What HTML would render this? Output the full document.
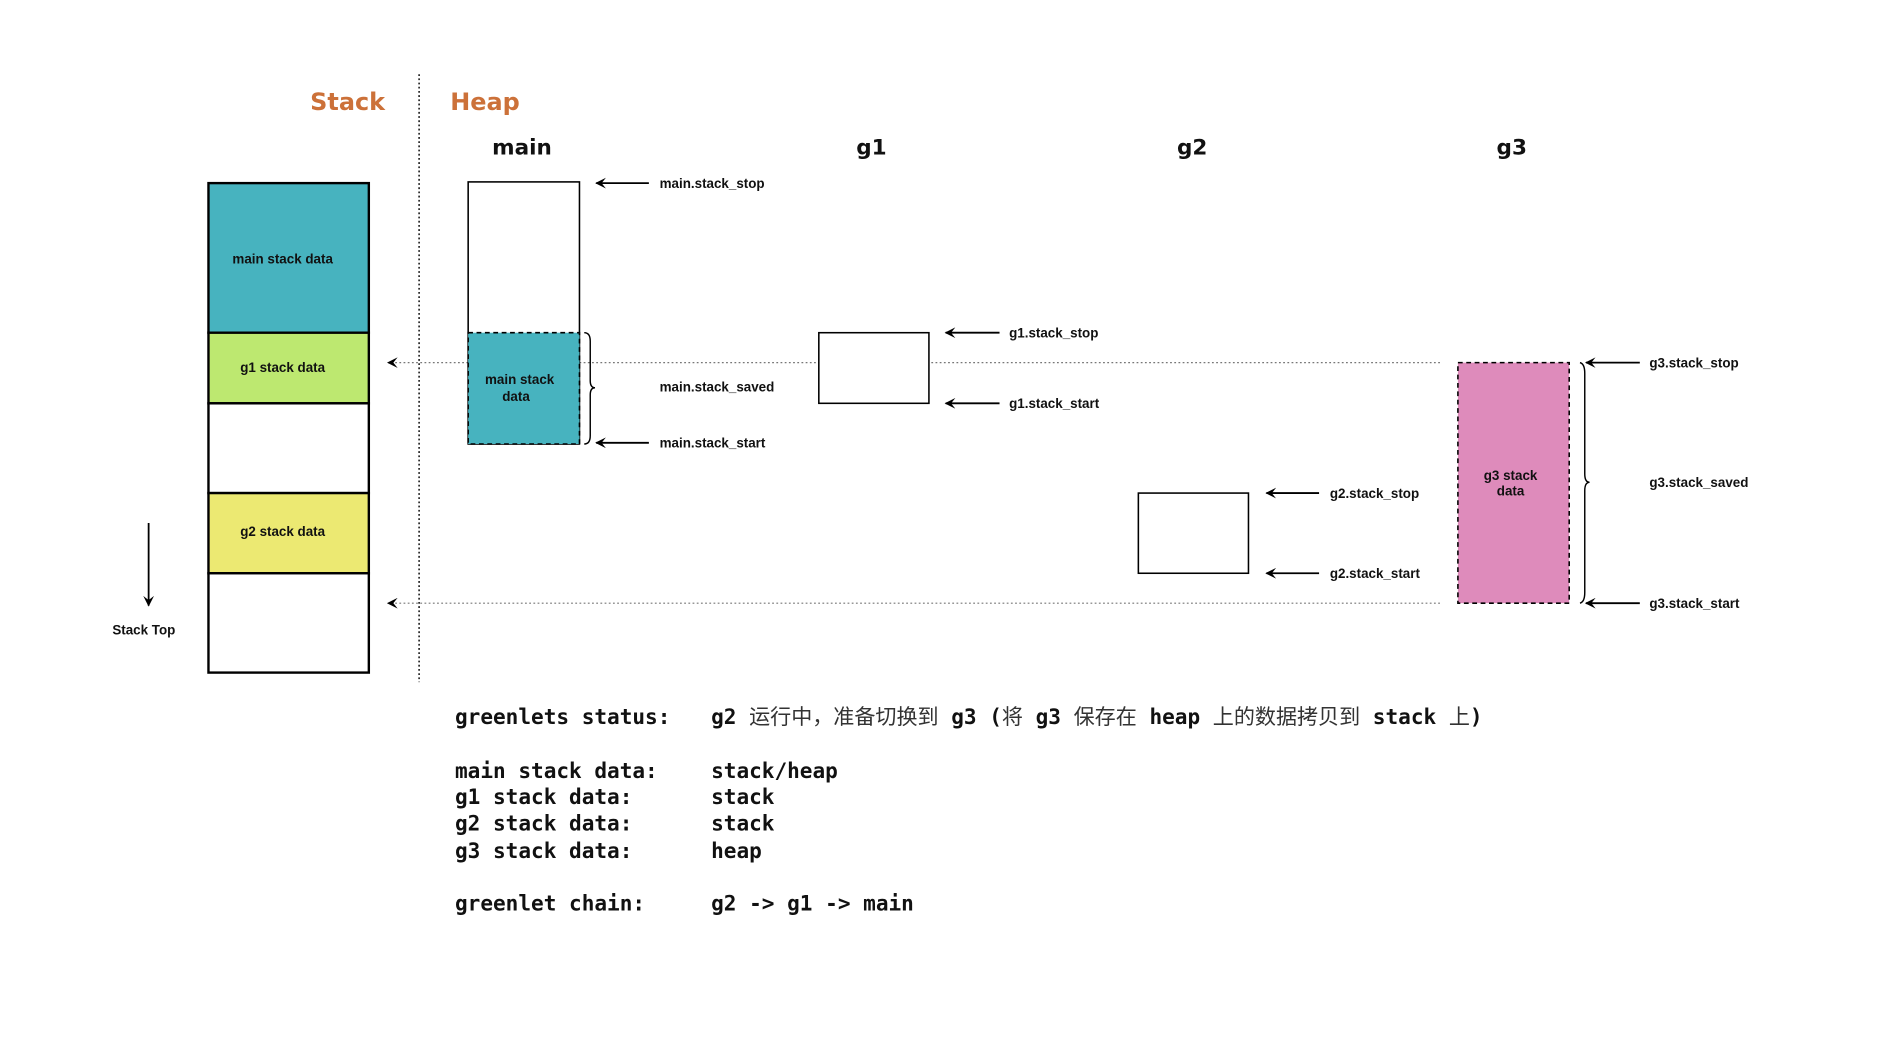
<!DOCTYPE html>
<html><head><meta charset="utf-8"><style>
html,body{margin:0;padding:0;background:#fff;}
svg{display:block;}
.lbl{font-family:"Liberation Sans","DejaVu Sans",sans-serif;font-weight:bold;font-size:11.2px;fill:#111;}
.hd{font-family:"DejaVu Sans","Liberation Sans",sans-serif;font-weight:bold;font-size:18px;fill:#111;}
.ttl{font-family:"DejaVu Sans","Liberation Sans",sans-serif;font-weight:bold;font-size:20px;fill:#cc7139;}
.mono{font-family:"DejaVu Sans Mono","Liberation Mono",monospace;font-weight:bold;font-size:17.6px;fill:#111;}
.cn{font-family:"Noto Sans CJK SC","WenQuanYi Zen Hei",sans-serif;font-weight:normal;fill:#333;font-size:17.6px;}
</style></head><body>
<svg width="1877" height="1040" viewBox="0 0 1568 869" xmlns="http://www.w3.org/2000/svg">
<defs>
<marker id="ah" viewBox="0 0 10 10" refX="9" refY="5" markerWidth="9" markerHeight="9" markerUnits="userSpaceOnUse" orient="auto"><path d="M10,5 L0,0 L4,5 L0,10 Z" fill="#000"/></marker>
</defs>
<text class="ttl" x="259" y="92">Stack</text>
<text class="ttl" x="376" y="92">Heap</text>
<line x1="350" y1="62" x2="350" y2="570" stroke="#000" stroke-width="1.2" stroke-dasharray="1.5,2"/>

<g stroke="#000" stroke-width="2">
<rect x="174" y="153" width="134" height="125" fill="#47b3bf"/>
<rect x="174" y="278" width="134" height="59" fill="#bde870"/>
<rect x="174" y="337" width="134" height="75" fill="#fff"/>
<rect x="174" y="412" width="134" height="67" fill="#ece972"/>
<rect x="174" y="479" width="134" height="83" fill="#fff"/>
</g>
<text class="lbl" x="236" y="220" text-anchor="middle">main stack data</text>
<text class="lbl" x="236" y="311" text-anchor="middle">g1 stack data</text>
<text class="lbl" x="236" y="448" text-anchor="middle">g2 stack data</text>
<line x1="124" y1="437" x2="124" y2="506" stroke="#000" stroke-width="1.5" marker-end="url(#ah)"/>
<text class="lbl" x="120" y="530" text-anchor="middle">Stack Top</text>

<line x1="1203" y1="303" x2="324" y2="303" stroke="#777" stroke-width="1" stroke-dasharray="1.5,2" marker-end="url(#ah)"/>
<line x1="1203" y1="504" x2="324" y2="504" stroke="#777" stroke-width="1" stroke-dasharray="1.5,2" marker-end="url(#ah)"/>

<text class="hd" x="436" y="129" text-anchor="middle">main</text>
<text class="hd" x="728" y="129" text-anchor="middle">g1</text>
<text class="hd" x="996" y="129" text-anchor="middle">g2</text>
<text class="hd" x="1263" y="129" text-anchor="middle">g3</text>

<rect x="391" y="152" width="93" height="219" fill="#fff" stroke="#000" stroke-width="1.3"/>
<rect x="391" y="278" width="93" height="93" fill="#47b3bf" stroke="#000" stroke-width="1.3" stroke-dasharray="4,3"/>
<text class="lbl" x="434" y="321" text-anchor="middle">main stack</text>
<text class="lbl" x="431" y="335" text-anchor="middle">data</text>
<path d="M488,278 Q493,278 493,285 L493,318 Q493,324 497,324 Q493,324 493,330 L493,364 Q493,371 488,371" fill="none" stroke="#000" stroke-width="1.2"/>
<line x1="542" y1="153" x2="498" y2="153" stroke="#000" stroke-width="1.5" marker-end="url(#ah)"/>
<line x1="542" y1="370" x2="498" y2="370" stroke="#000" stroke-width="1.5" marker-end="url(#ah)"/>
<text class="lbl" x="551" y="157">main.stack_stop</text>
<text class="lbl" x="551" y="327">main.stack_saved</text>
<text class="lbl" x="551" y="374">main.stack_start</text>

<rect x="684" y="278" width="92" height="59" fill="#fff" stroke="#000" stroke-width="1.3"/>
<line x1="835" y1="278" x2="790" y2="278" stroke="#000" stroke-width="1.5" marker-end="url(#ah)"/>
<line x1="835" y1="337" x2="790" y2="337" stroke="#000" stroke-width="1.5" marker-end="url(#ah)"/>
<text class="lbl" x="843" y="282">g1.stack_stop</text>
<text class="lbl" x="843" y="341">g1.stack_start</text>

<rect x="951" y="412" width="92" height="67" fill="#fff" stroke="#000" stroke-width="1.3"/>
<line x1="1102" y1="412" x2="1058" y2="412" stroke="#000" stroke-width="1.5" marker-end="url(#ah)"/>
<line x1="1102" y1="479" x2="1058" y2="479" stroke="#000" stroke-width="1.5" marker-end="url(#ah)"/>
<text class="lbl" x="1111" y="416">g2.stack_stop</text>
<text class="lbl" x="1111" y="483">g2.stack_start</text>

<rect x="1218" y="303" width="93" height="201" fill="#de8bbb" stroke="#000" stroke-width="1.3" stroke-dasharray="4,3"/>
<text class="lbl" x="1262" y="401" text-anchor="middle">g3 stack</text>
<text class="lbl" x="1262" y="414" text-anchor="middle">data</text>
<path d="M1320,303 Q1324,304 1324,312 L1324,396 Q1324,403 1328,403 Q1324,403 1324,410 L1324,495 Q1324,503 1320,504" fill="none" stroke="#000" stroke-width="1.2"/>
<line x1="1370" y1="303" x2="1325" y2="303" stroke="#000" stroke-width="1.5" marker-end="url(#ah)"/>
<line x1="1370" y1="504" x2="1325" y2="504" stroke="#000" stroke-width="1.5" marker-end="url(#ah)"/>
<text class="lbl" x="1378" y="307">g3.stack_stop</text>
<text class="lbl" x="1378" y="407">g3.stack_saved</text>
<text class="lbl" x="1378" y="508">g3.stack_start</text>

<g>
<text class="mono" x="380" y="605">greenlets status:</text>
<text class="mono" x="594" y="605">g2 <tspan class="cn">运行中，准备切换到</tspan> g3 (<tspan class="cn">将</tspan> g3 <tspan class="cn">保存在</tspan> heap <tspan class="cn">上的数据拷贝到</tspan> stack <tspan class="cn">上</tspan>)</text>
<text class="mono" x="380" y="650">main stack data:</text>
<text class="mono" x="594" y="650">stack/heap</text>
<text class="mono" x="380" y="672">g1 stack data:</text>
<text class="mono" x="594" y="672">stack</text>
<text class="mono" x="380" y="694">g2 stack data:</text>
<text class="mono" x="594" y="694">stack</text>
<text class="mono" x="380" y="717">g3 stack data:</text>
<text class="mono" x="594" y="717">heap</text>
<text class="mono" x="380" y="761">greenlet chain:</text>
<text class="mono" x="594" y="761">g2 -&gt; g1 -&gt; main</text>
</g>
</svg>
</body></html>
